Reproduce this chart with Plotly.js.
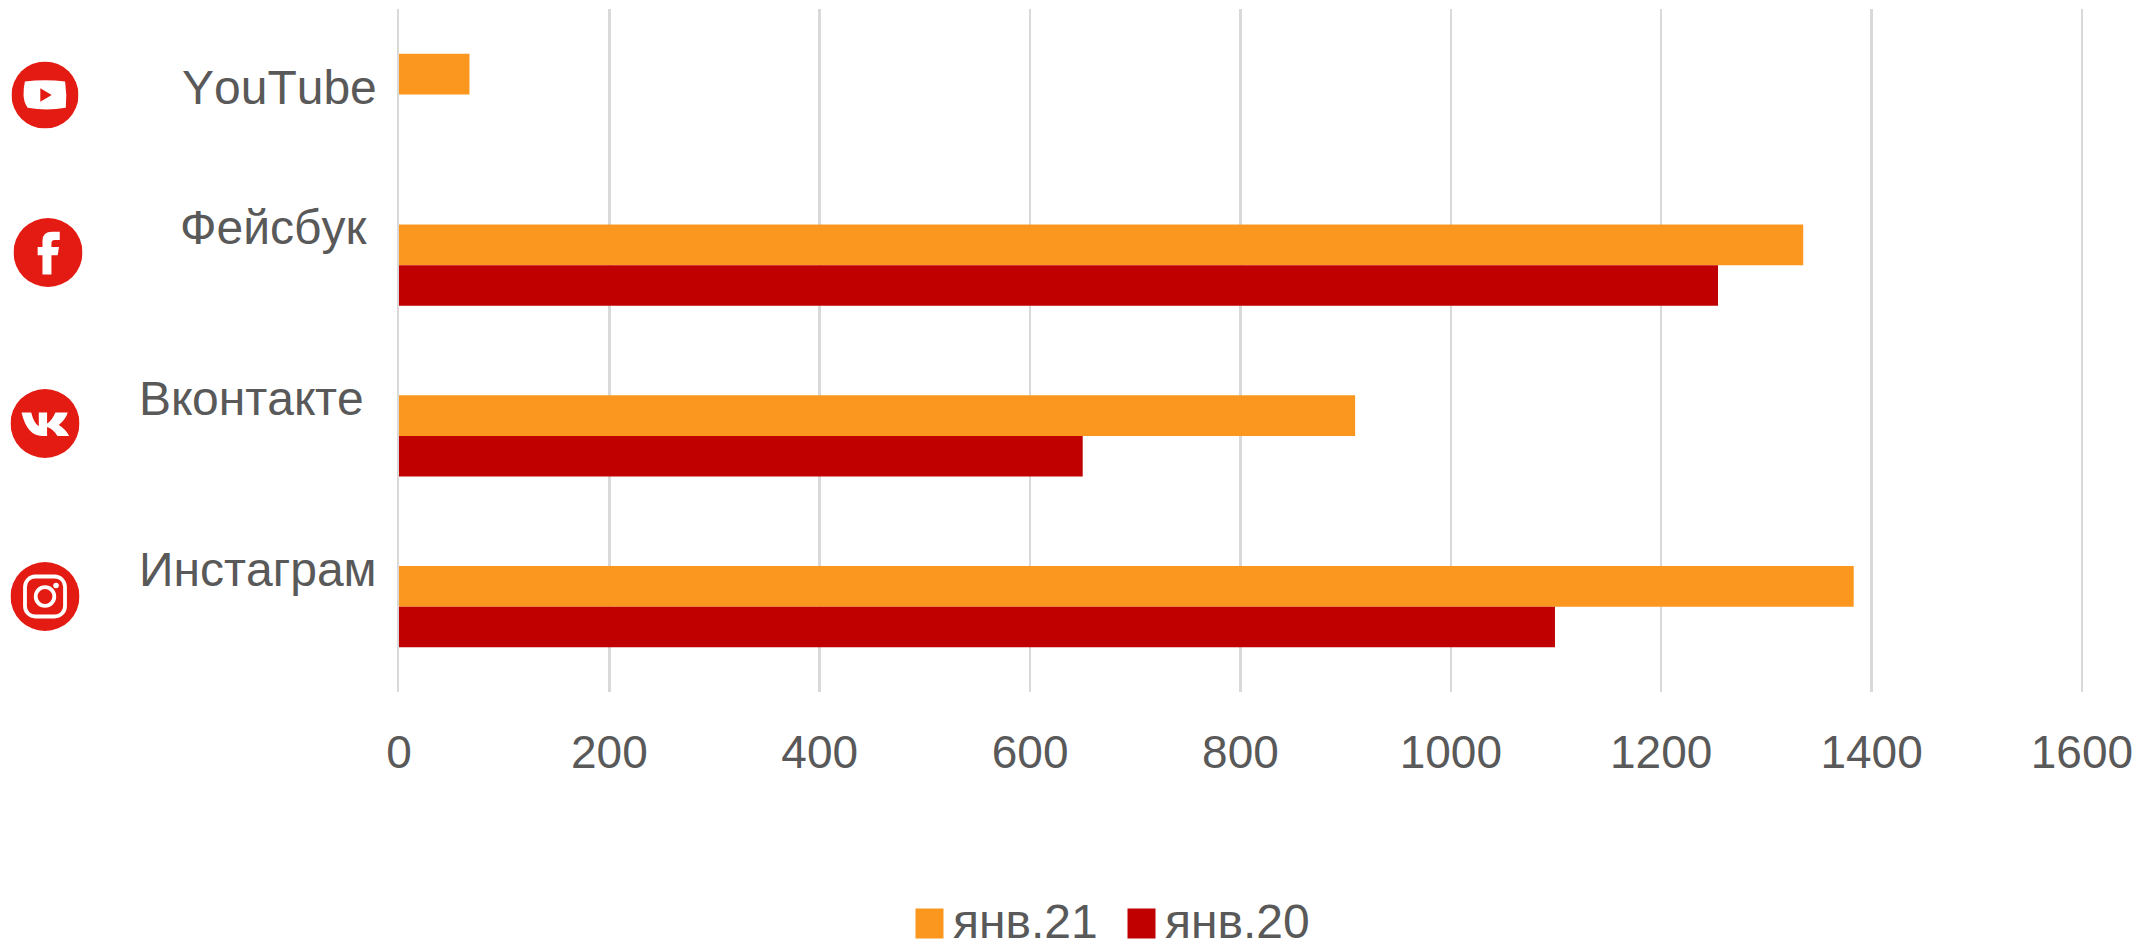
<!DOCTYPE html>
<html>
<head>
<meta charset="utf-8">
<script src="https://cdn.plot.ly/plotly-3.0.1.min.js"></script>
<style>html,body{margin:0;padding:0;background:#fff}#chart{width:2154px;height:939px}
.annotation-text{font-kerning:none}</style>
</head>
<body>
<div id="chart"></div>
<script>
const categories = ["YouTube", "Фейсбук", "Вконтакте", "Инстаграм"];
const jan21 = [67, 1335, 909, 1383];
const jan20 = [null, 1254, 650, 1099];
const seriesNames = ["янв.21", "янв.20"];
const xTicks = [0, 200, 400, 600, 800, 1000, 1200, 1400, 1600];

const W = 2154, H = 939;
const M = {l: 399, r: 71, t: 9, b: 247};
const plotW = W - M.l - M.r, plotH = H - M.t - M.b;
const grey = "#595959", iconRed = "#E31B12";
const font = "Liberation Sans, Arial, sans-serif";

const glyphs = {
  youtube: `<path d="M18 50 Q18 38 20 30 Q50 26 80 30 Q83 50 81 69 Q52 74 24 69 Q18 60 18 50Z" fill="#fff"/><path d="M43 40 L60 50 L43 60Z" fill="${iconRed}"/>`,
  facebook: `<path d="M42 82V54H35V42H42V33Q42 20 56 20H67V32H60Q55 32 55 37V42H66L64 54H55V82Z" fill="#fff"/>`,
  vk: `<path d="M16 34H30Q34 50 41 54V34H53V50Q60 46 65 34H83Q80 44 70 52Q80 58 85 68H68Q62 58 53 55V68H46Q24 68 16 34Z" fill="#fff"/>`,
  instagram: `<rect x="21" y="21" width="58" height="58" rx="15" fill="none" stroke="#fff" stroke-width="5.5"/><circle cx="50" cy="50" r="13.5" fill="none" stroke="#fff" stroke-width="5.5"/><circle cx="66" cy="34" r="4" fill="#fff"/>`
};
const icon = g => "data:image/svg+xml;charset=utf-8," + encodeURIComponent(
  `<svg xmlns="http://www.w3.org/2000/svg" viewBox="0 0 100 100" width="200" height="200"><circle cx="50" cy="50" r="50" fill="${iconRed}"/>${g}</svg>`);
const iconImage = (g, cx, cy, r) => ({
  source: icon(g), xref: "paper", yref: "paper", layer: "above", sizing: "stretch",
  x: (cx - r - M.l) / plotW, y: 1 - (cy - r - M.t) / plotH,
  sizex: 2 * r / plotW, sizey: 2 * r / plotH, xanchor: "left", yanchor: "top"
});

const labelPos = [[180, 88], [178, 227], [137, 398], [137, 569]];
const labelAnn = categories.map((c, i) => ({
  text: c, xref: "paper", yref: "paper", showarrow: false, xanchor: "left", yanchor: "middle",
  x: (labelPos[i][0] - M.l) / plotW, y: 1 - (labelPos[i][1] - M.t) / plotH,
  font: {family: font, size: 48, color: grey}
}));

const traces = [
  {type: "bar", orientation: "h", name: seriesNames[0], y: categories, x: jan21, marker: {color: "#FB971F"}},
  {type: "bar", orientation: "h", name: seriesNames[1], y: categories, x: jan20, marker: {color: "#C00000"}}
];

const layout = {
  width: W, height: H, margin: M, paper_bgcolor: "#fff", plot_bgcolor: "#fff",
  barmode: "group", bargap: 0.525, bargroupgap: 0,
  font: {family: font, color: grey},
  xaxis: {
    range: [0, 1601], tickvals: xTicks, ticktext: xTicks.map(String), showgrid: true,
    gridcolor: "#D9D9D9", gridwidth: 2.5, zeroline: false, showline: false,
    ticks: "", ticklabelstandoff: 29, tickfont: {family: font, size: 46, color: grey}, fixedrange: true
  },
  yaxis: {
    type: "category", categoryorder: "array", categoryarray: categories, range: [3.5, -0.5],
    showticklabels: false, showgrid: false, zeroline: false, ticks: "",
    showline: true, linecolor: "#D9D9D9", linewidth: 2.5, fixedrange: true
  },
  showlegend: true,
  legend: {
    orientation: "h", xref: "paper", yref: "container",
    x: (913 - M.l) / plotW, y: 0.0205, xanchor: "left", yanchor: "middle",
    font: {family: font, size: 48, color: grey}, itemwidth: 30,
    entrywidth: 167, entrywidthmode: "pixels", itemclick: false, itemdoubleclick: false,
    traceorder: "normal", bgcolor: "rgba(0,0,0,0)"
  },
  annotations: labelAnn,
  images: [
    iconImage(glyphs.youtube, 45, 95, 33.5),
    iconImage(glyphs.facebook, 48, 252.5, 34.5),
    iconImage(glyphs.vk, 45, 423.5, 34.5),
    iconImage(glyphs.instagram, 45, 596.5, 34.5)
  ]
};

Plotly.newPlot("chart", traces, layout, {staticPlot: true, displayModeBar: false}).then(gd => {
  gd.querySelectorAll(".legend .legendpoints path").forEach(p => p.setAttribute("d", "M10.5,19H-17.5V-11H10.5Z"));
});
</script>
</body>
</html>
